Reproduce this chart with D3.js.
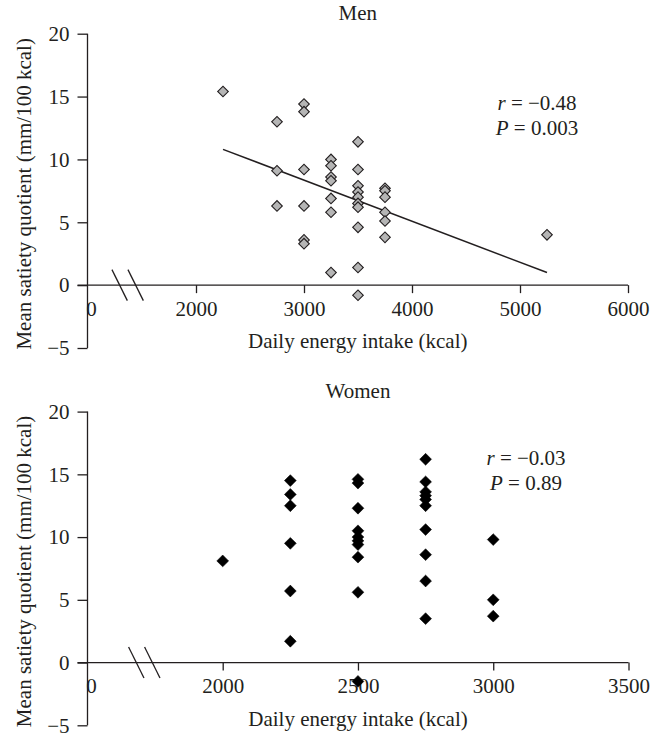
<!DOCTYPE html>
<html>
<head>
<meta charset="utf-8">
<script src="https://cdn.jsdelivr.net/npm/d3@7"></script>
<style>
  html, body { margin: 0; padding: 0; background: #fff; }
  svg { display: block; }
  text { font-family: "Liberation Serif", "Times New Roman", serif; fill: #231f20; }
</style>
</head>
<body>
<svg id="chart" width="665" height="753"></svg>
<script>
// ---------- DATA ----------
const yTicks = [-5, 0, 5, 10, 15, 20];

const menTitle = "Men";
const menXTicks = [0, 2000, 3000, 4000, 5000, 6000];
const menIntake = [2250,
  2750, 2750, 2750,
  3000, 3000, 3000, 3000, 3000, 3000,
  3250, 3250, 3250, 3250, 3250, 3250, 3250,
  3500, 3500, 3500, 3500, 3500, 3500, 3500, 3500, 3500, 3500,
  3750, 3750, 3750, 3750, 3750, 3750,
  5250];
const menSQ = [15.4,
  13.0, 9.1, 6.3,
  14.4, 13.8, 9.2, 6.3, 3.6, 3.3,
  10.0, 9.5, 8.6, 8.3, 6.9, 5.8, 1.0,
  11.4, 9.2, 7.9, 7.4, 7.0, 6.5, 6.2, 4.6, 1.4, -0.8,
  7.7, 7.5, 7.0, 5.8, 5.1, 3.8,
  4.0];
const menFitX = [2250, 5250];
const menFitY = [10.8, 1.0];
const menStats = ["−0.48", "0.003"];

const womenTitle = "Women";
const womenXTicks = [0, 2000, 2500, 3000, 3500];
const womenIntake = [2000,
  2250, 2250, 2250, 2250, 2250, 2250,
  2500, 2500, 2500, 2500, 2500, 2500, 2500, 2500, 2500, 2500,
  2750, 2750, 2750, 2750, 2750, 2750, 2750, 2750, 2750, 2750,
  3000, 3000, 3000];
const womenSQ = [8.1,
  14.5, 13.4, 12.5, 9.5, 5.7, 1.7,
  14.6, 14.3, 12.3, 10.5, 10.0, 9.7, 9.4, 8.4, 5.6, -1.5,
  16.2, 14.4, 13.6, 13.3, 13.0, 12.5, 10.6, 8.6, 6.5, 3.5,
  9.8, 5.0, 3.7];
const womenStats = ["−0.03", "0.89"];

const yLabel = "Mean satiety quotient (mm/100 kcal)";
const xLabel = "Daily energy intake (kcal)";

// ---------- DRAW ----------
const svg = d3.select("#chart");
const FONT = 21;

function panel(cfg) {
  const g = svg.append("g");
  const x = d3.scaleLinear().domain(cfg.xDomain).range(cfg.xRange);
  const y = d3.scaleLinear().domain([-5, 20]).range(cfg.yRange);
  const x0 = x(0), yZero = y(0);
  const xEnd = x(cfg.xDomain[cfg.xDomain.length - 1]);

  // y axis
  const yAxis = d3.axisLeft(y).tickValues(yTicks).tickSize(10).tickPadding(8).tickFormat(d3.format("d"));
  const ya = g.append("g").attr("transform", `translate(${x0},0)`).call(yAxis);
  ya.select(".domain").attr("d", `M0,${y(-5)}V${y(20)}`);
  ya.selectAll("text").text(d => d < 0 ? "−" + Math.abs(d) : d);

  // x axis
  const xAxis = d3.axisBottom(x).tickValues(cfg.xTicks.filter(d => d > 0)).tickSize(8).tickPadding(8).tickFormat(d3.format("d"));
  const xa = g.append("g").attr("transform", `translate(0,${yZero})`).call(xAxis);
  xa.select(".domain").attr("d", `M${x0 - 10},0H${xEnd}`);
  xa.append("text").attr("x", x0 + 4).attr("y", 16).attr("dy", "0.71em")
    .attr("text-anchor", "middle").text(cfg.xTicks[0]);

  [ya, xa].forEach(a => {
    a.attr("font-family", null);
    a.selectAll("path, line").attr("stroke", "#231f20").attr("stroke-width", 1.3);
    a.selectAll("text").style("font-family", "'Liberation Serif', serif").style("font-size", FONT + "px").attr("fill", "#231f20");
  });

  // break marks on x axis between 0 and first tick
  const bc = x0 + cfg.breakFrac * (x(cfg.xTicks[1]) - x0);
  [-8, 8].forEach(off => {
    g.append("line")
      .attr("x1", bc + off - 7.7).attr("y1", yZero - 15.5)
      .attr("x2", bc + off + 7.7).attr("y2", yZero + 15.5)
      .attr("stroke", "#231f20").attr("stroke-width", 1.3);
  });

  // fit line
  if (cfg.fitX) {
    const line = d3.line().x(d => x(d[0])).y(d => y(d[1]));
    g.append("path").datum(d3.zip(cfg.fitX, cfg.fitY))
      .attr("d", line).attr("fill", "none").attr("stroke", "#231f20").attr("stroke-width", 1.5);
  }

  // points
  const sym = d3.symbol().type(d3.symbolSquare).size(cfg.symSize);
  g.append("g").selectAll("path").data(d3.zip(cfg.xs, cfg.ys)).join("path")
    .attr("d", sym)
    .attr("transform", d => `translate(${x(d[0])},${y(d[1])}) rotate(45)`)
    .attr("fill", cfg.fill).attr("stroke", cfg.stroke).attr("stroke-width", cfg.strokeW);

  // title
  g.append("text").attr("x", (x0 + xEnd) / 2).attr("y", cfg.titleY)
    .attr("text-anchor", "middle").style("font-size", FONT + "px").text(cfg.title);

  // stats
  const t1 = g.append("text").attr("x", cfg.statX).attr("y", cfg.statY).attr("text-anchor", "middle").style("font-size", FONT + "px");
  t1.append("tspan").style("font-style", "italic").text("r");
  t1.append("tspan").text(" = " + cfg.stats[0]);
  const t2 = g.append("text").attr("x", cfg.statX).attr("y", cfg.statY + 25).attr("text-anchor", "middle").style("font-size", FONT + "px");
  t2.append("tspan").style("font-style", "italic").text("P");
  t2.append("tspan").text(" = " + cfg.stats[1]);

  // axis titles
  g.append("text").attr("transform", `translate(31,${(y(-5) + y(20)) / 2 + 3}) rotate(-90)`)
    .attr("text-anchor", "middle").style("font-size", FONT + "px").text(yLabel);
  g.append("text").attr("x", (x0 + xEnd) / 2).attr("y", yZero + 63)
    .attr("text-anchor", "middle").style("font-size", FONT + "px").text(xLabel);
}

panel({
  title: menTitle, titleY: 20,
  xDomain: [0, 2000, 6000], xRange: [87.5, 196, 628], yRange: [348, 33.7],
  xTicks: menXTicks, xs: menIntake, ys: menSQ, fitX: menFitX, fitY: menFitY,
  stats: menStats, statX: 537, statY: 110, breakFrac: 0.37,
  symSize: 56, fill: "#b5b5b5", stroke: "#231f20", strokeW: 1.1
});

panel({
  title: womenTitle, titleY: 398,
  xDomain: [0, 2000, 3500], xRange: [87.5, 222.7, 628.5], yRange: [725.3, 411.6],
  xTicks: womenXTicks, xs: womenIntake, ys: womenSQ,
  stats: womenStats, statX: 526, statY: 465, breakFrac: 0.42,
  symSize: 70, fill: "#000", stroke: "#000", strokeW: 0.5
});
</script>
</body>
</html>
